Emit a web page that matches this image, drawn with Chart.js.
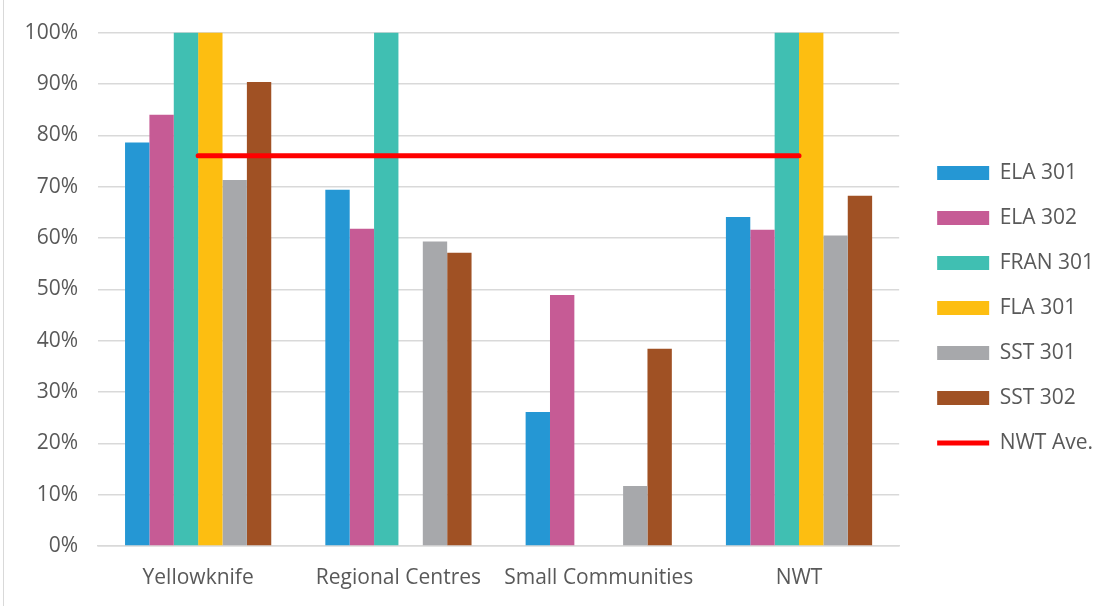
<!DOCTYPE html>
<html>
<head>
<meta charset="utf-8">
<script src="https://cdn.jsdelivr.net/npm/chart.js@4"></script>
<style>
  html, body { margin: 0; padding: 0; background: #fff; }
  #wrap { position: relative; width: 1108px; height: 606px; }
  #edge { position: absolute; left: 3px; top: 0; width: 1px; height: 606px; background: #d9d9d9; }
</style>
</head>
<body>
<div id="wrap">
  <canvas id="myChart" width="1108" height="606"></canvas>
  <div id="edge"></div>
</div>
<script>
const categories = ['Yellowknife', 'Regional Centres', 'Small Communities', 'NWT'];

const ela301 = [78.6, 69.4, 26.1, 64.1];
const ela302 = [84.0, 61.8, 48.9, 61.6];
const fran301 = [100, 100, null, 100];
const fla301 = [100, null, null, 100];
const sst301 = [71.3, 59.3, 11.7, 60.5];
const sst302 = [90.4, 57.1, 38.4, 68.2];
const nwtAve = [76.0, 76.0, 76.0, 76.0];

const textColor = '#595959';
const font = { family: 'Open Sans', size: 21 };

const ctx = document.getElementById('myChart');

function bar(label, data, color) {
    return {
        type: 'bar',
        label: label,
        data: data,
        backgroundColor: color,
        borderWidth: 0,
        pointStyle: 'rect',
        order: 1,
        barPercentage: 1.0,
        categoryPercentage: 0.73
    };
}

new Chart(ctx, {
    data: {
        labels: categories,
        datasets: [
            bar('ELA 301', ela301, '#2597d4'),
            bar('ELA 302', ela302, '#c65b95'),
            bar('FRAN 301', fran301, '#40bfb2'),
            bar('FLA 301', fla301, '#fdbe11'),
            bar('SST 301', sst301, '#a7a8ab'),
            bar('SST 302', sst302, '#a05124'),
            {
                type: 'line',
                label: 'NWT Ave.',
                data: nwtAve,
                borderColor: '#ff0000',
                backgroundColor: '#ff0000',
                borderWidth: 5,
                borderCapStyle: 'round',
                pointRadius: 0,
                pointStyle: 'line',
                order: 0
            }
        ]
    },
    options: {
        responsive: false,
        animation: false,
        layout: {
            padding: { left: 14, top: 27, right: 15, bottom: 17 }
        },
        plugins: {
            tooltip: { enabled: false },
            legend: {
                position: 'right',
                labels: {
                    usePointStyle: true,
                    pointStyleWidth: 52,
                    boxHeight: 14,
                    padding: 24,
                    color: textColor,
                    font: font,
                    sort: (a, b) => a.datasetIndex - b.datasetIndex
                }
            }
        },
        scales: {
            x: {
                grid: { display: false, drawTicks: false },
                border: { color: '#d9d9d9', width: 1.5 },
                ticks: {
                    color: textColor,
                    font: font,
                    padding: 19
                },
                afterFit: function(scale) {
                    scale.height = 43;
                }
            },
            y: {
                min: 0,
                max: 100,
                grid: { color: '#d9d9d9', lineWidth: 1.5, drawTicks: false },
                border: { display: false },
                ticks: {
                    stepSize: 10,
                    padding: 20,
                    color: textColor,
                    font: font,
                    callback: function(value) {
                        return value + '%';
                    }
                },
                afterFit: function(scale) {
                    scale.width = 84;
                }
            },
            gap: {
                position: 'right',
                display: true,
                grid: { display: false },
                border: { display: false },
                ticks: { display: false },
                afterFit: function(scale) {
                    scale.width = 14;
                }
            }
        }
    }
});
</script>
</body>
</html>
